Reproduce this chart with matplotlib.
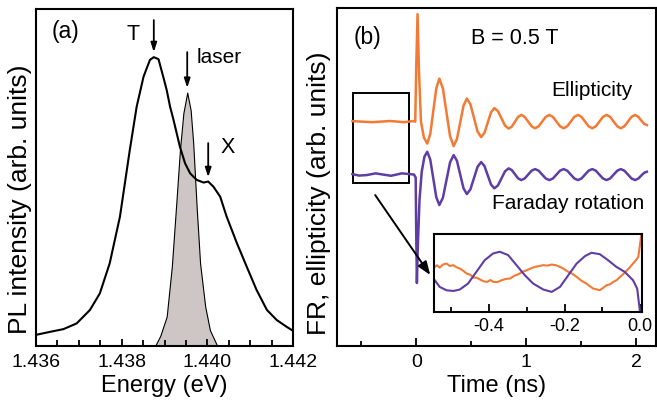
import matplotlib
matplotlib.use("Agg")
import matplotlib.pyplot as plt
from matplotlib.patches import Rectangle

plt.rcParams['font.family'] = ['Liberation Sans', 'DejaVu Sans']

# ---------------- Panel (a) data ----------------
energy_pl = [1.43600, 1.43633, 1.43664, 1.43695, 1.43726, 1.43749, 1.43772, 1.43796,
             1.43819, 1.43835, 1.43851, 1.43866, 1.43875, 1.43886, 1.43897, 1.43905,
             1.43913, 1.43921, 1.43936, 1.43948, 1.43960, 1.43975, 1.43991, 1.44002,
             1.44014, 1.44030, 1.44045, 1.44069, 1.44092, 1.44115, 1.44139, 1.44162,
             1.44185, 1.44200]
pl_intensity = [0.033, 0.042, 0.050, 0.067, 0.107, 0.156, 0.245, 0.384,
                0.582, 0.710, 0.799, 0.849, 0.857, 0.851, 0.799, 0.760,
                0.710, 0.671, 0.591, 0.542, 0.512, 0.493, 0.485, 0.488,
                0.473, 0.443, 0.384, 0.305, 0.235, 0.166, 0.107, 0.077,
                0.057, 0.045]

energy_laser = [1.43878, 1.43890, 1.43905, 1.43917, 1.43928, 1.43936, 1.43944, 1.43953,
                1.43961, 1.43967, 1.43975, 1.43983, 1.43995, 1.44006, 1.44022]
laser_intensity = [0.0, 0.030, 0.087, 0.235, 0.433, 0.582, 0.691, 0.752,
                   0.700, 0.602, 0.413, 0.246, 0.117, 0.047, 0.003]

# ---------------- Panel (b) data (arb. units) ----------------
t_ell = [-0.58, -0.50, -0.40, -0.32, -0.24, -0.17, -0.11, -0.03, -0.009, 0.0, 0.012, 0.025, 0.043, 0.07,
         0.10, 0.1275, 0.155, 0.1825, 0.21, 0.2425, 0.275, 0.3075, 0.34, 0.37, 0.40, 0.43,
         0.46, 0.4925, 0.525, 0.5575, 0.59, 0.62, 0.65, 0.68, 0.71, 0.7425, 0.775, 0.8075,
         0.84, 0.869, 0.8975, 0.926, 0.955, 0.986, 1.0175, 1.049, 1.08, 1.1125, 1.145, 1.1775,
         1.21, 1.2425, 1.275, 1.3075, 1.34, 1.3725, 1.405, 1.4375, 1.47, 1.5025, 1.535, 1.5675,
         1.60, 1.6325, 1.665, 1.6975, 1.73, 1.763, 1.795, 1.828, 1.86, 1.892, 1.925, 1.957,
         1.99, 2.02, 2.05, 2.075, 2.097]
ellipticity = [0.05, 0.0, -0.06, 0.0, 0.06, 0.0, -0.06, 0.05, 0.0, 5.5, 10.75, 5.0, 0.0, -1.6,
               -2.2, -1.25, 1.05, 3.35, 4.3, 3.31, 0.925, -1.46, -2.45, -1.75, -0.075, 1.60,
               2.3, 1.74, 0.375, -0.99, -1.55, -1.13, -0.1, 0.93, 1.35, 1.05, 0.325, -0.40,
               -0.70, -0.50, -0.015, 0.47, 0.67, 0.47, 0.0, -0.47, -0.67, -0.47, 0.0, 0.47,
               0.67, 0.47, 0.0, -0.47, -0.67, -0.47, 0.0, 0.47, 0.67, 0.47, 0.0, -0.47,
               -0.67, -0.47, 0.0, 0.47, 0.67, 0.47, 0.0, -0.47, -0.67, -0.47, 0.0, 0.47,
               0.67, 0.47, 0.05, -0.25, -0.35]

t_fr = [-0.58, -0.52, -0.45, -0.37, -0.30, -0.23, -0.13, -0.06, -0.02, -0.005, 0.0, 0.006, 0.015,
        0.03, 0.05, 0.075, 0.10, 0.1275, 0.155, 0.1825, 0.21, 0.2425, 0.275, 0.3075, 0.34,
        0.37, 0.40, 0.43, 0.46, 0.4925, 0.525, 0.5575, 0.59, 0.62, 0.65, 0.68, 0.71, 0.7425,
        0.775, 0.8075, 0.84, 0.869, 0.8975, 0.926, 0.955, 0.986, 1.0175, 1.049, 1.08, 1.1125,
        1.145, 1.1775, 1.21, 1.2425, 1.275, 1.3075, 1.34, 1.3725, 1.405, 1.4375, 1.47, 1.5025,
        1.535, 1.5675, 1.60, 1.6325, 1.665, 1.6975, 1.73, 1.763, 1.795, 1.828, 1.86, 1.892,
        1.925, 1.957, 1.99, 2.02, 2.05, 2.075, 2.097]
faraday = [0.05, -0.10, -0.05, 0.12, 0.0, -0.12, 0.12, 0.05, 0.0, -0.3, -6.0, -10.85, -7.0,
           -2.5, 0.3, 1.8, 2.28, 1.50, -0.385, -2.27, -3.05, -2.32, -0.55, 1.22, 1.95,
           1.38, 0.0, -1.38, -1.95, -1.48, -0.35, 0.78, 1.25, 0.865, -0.065, -0.995, -1.38, -1.09,
           -0.38, 0.33, 0.62, 0.45, 0.035, -0.38, -0.55, -0.39, 0.0, 0.39, 0.55, 0.39,
           0.0, -0.39, -0.55, -0.39, 0.0, 0.39, 0.55, 0.39, 0.0, -0.39, -0.55, -0.39,
           0.0, 0.39, 0.55, 0.39, 0.0, -0.39, -0.55, -0.39, 0.0, 0.39, 0.55, 0.39,
           0.0, -0.39, -0.55, -0.39, -0.05, 0.20, 0.28]
ell_offset = 22.45
fr_offset = 17.15

# ---------------- Inset data ----------------
t_in_fr = [-0.543, -0.530, -0.512, -0.494, -0.477, -0.455, -0.433, -0.411, -0.389, -0.371,
           -0.349, -0.327, -0.305, -0.283, -0.256, -0.234, -0.212, -0.190, -0.168, -0.146,
           -0.129, -0.107, -0.085, -0.063, -0.041, -0.019, -0.008, -0.001, 0.001]
in_fr = [0.408, 0.322, 0.279, 0.270, 0.288, 0.365, 0.515, 0.665, 0.751, 0.773,
         0.730, 0.601, 0.472, 0.365, 0.288, 0.258, 0.322, 0.472, 0.622, 0.717,
         0.760, 0.742, 0.665, 0.579, 0.515, 0.408, 0.300, 0.020, -0.10]
t_in_ell = [-0.543, -0.537, -0.530, -0.521, -0.512, -0.503, -0.494, -0.486, -0.477, -0.468,
            -0.459, -0.450, -0.441, -0.432, -0.423, -0.414, -0.405, -0.396, -0.388, -0.377,
            -0.366, -0.355, -0.344, -0.333, -0.322, -0.311, -0.300, -0.289, -0.278, -0.267,
            -0.256, -0.245, -0.234, -0.223, -0.212, -0.201, -0.190, -0.179, -0.168, -0.155,
            -0.142, -0.133, -0.124, -0.115, -0.107, -0.098, -0.089, -0.080, -0.071, -0.062,
            -0.053, -0.044, -0.035, -0.027, -0.019, -0.012, -0.005, 0.001, 0.004]
in_ell = [0.579, 0.600, 0.570, 0.610, 0.622, 0.590, 0.601, 0.575, 0.558, 0.530,
          0.494, 0.480, 0.442, 0.440, 0.416, 0.395, 0.386, 0.410, 0.386, 0.385,
          0.408, 0.425, 0.429, 0.465, 0.485, 0.515, 0.536, 0.560, 0.579, 0.590,
          0.601, 0.595, 0.609, 0.600, 0.579, 0.550, 0.515, 0.490, 0.451, 0.400,
          0.365, 0.330, 0.300, 0.290, 0.279, 0.310, 0.343, 0.355, 0.386, 0.410,
          0.451, 0.490, 0.536, 0.575, 0.622, 0.660, 0.708, 0.923, 1.05]

orange = '#F37A35'
purple = '#5E3DA5'
grey = '#CDC6C4'

fig = plt.figure(figsize=(6.57, 4.08), dpi=100)

# ---------------- Panel (a) ----------------
axa = fig.add_axes([0.0548, 0.152, 0.3912, 0.826])
axa.fill_between(energy_laser, laser_intensity, 0, facecolor=grey, edgecolor='black', linewidth=0.8)
axa.plot(energy_pl, pl_intensity, color='black', lw=1.5)
axa.set_xlim(1.436, 1.442)
axa.set_ylim(0, 1)
axa.set_xticks([1.436, 1.438, 1.440, 1.442])
axa.set_xticklabels(['1.436', '1.438', '1.440', '1.442'])
axa.set_xticks([1.4365, 1.437, 1.4375, 1.4385, 1.439, 1.4395, 1.4405, 1.441, 1.4415], minor=True)
axa.set_yticks([])
axa.tick_params(axis='x', which='both', direction='in', labelsize=14, pad=6, width=1.3)
axa.tick_params(axis='x', which='major', length=5)
axa.tick_params(axis='x', which='minor', length=4)
for s in axa.spines.values():
    s.set_linewidth(1.5)
axa.set_xlabel('Energy (eV)', fontsize=17, labelpad=3)
axa.set_ylabel('PL intensity (arb. units)', fontsize=19)
axa.yaxis.set_label_coords(-0.014, 0.436)
axa.text(1.43668, 0.932, '(a)', fontsize=16.5, ha='center', va='center')
axa.text(1.43826, 0.923, 'T', fontsize=15.5, ha='center', va='center')
axa.text(1.43974, 0.855, 'laser', fontsize=15, ha='left', va='center')
axa.text(1.44048, 0.588, 'X', fontsize=15.5, ha='center', va='center')
arrow_kw = dict(arrowstyle='-|>,head_width=0.18,head_length=0.55', color='black', lw=1.3,
                shrinkA=0, shrinkB=0)
axa.annotate('', xy=(1.43875, 0.872), xytext=(1.43875, 0.967), arrowprops=arrow_kw)
axa.annotate('', xy=(1.43953, 0.766), xytext=(1.43953, 0.872), arrowprops=arrow_kw)
axa.annotate('', xy=(1.44002, 0.501), xytext=(1.44002, 0.602), arrowprops=arrow_kw)

# ---------------- Panel (b) ----------------
axb = fig.add_axes([0.513, 0.152, 0.4855, 0.828])
axb.plot(t_ell, [v + ell_offset for v in ellipticity], color=orange, lw=1.8)
axb.plot(t_fr, [v + fr_offset for v in faraday], color=purple, lw=1.8)
axb.add_patch(Rectangle((-0.573, 16.3), 0.509, 9.0, fill=False, edgecolor='black', lw=1.4))
axb.annotate('', xy=(0.127, 7.1), xytext=(-0.373, 15.1),
             arrowprops=dict(arrowstyle='-|>,head_width=0.3,head_length=0.8', color='black',
                             lw=1.4, shrinkA=0, shrinkB=0))
axb.set_xlim(-0.72, 2.18)
axb.set_ylim(0, 33.8)
axb.set_xticks([0, 1, 2])
axb.set_xticks([-0.5, 0.5, 1.5], minor=True)
axb.set_yticks([])
axb.tick_params(axis='x', which='both', direction='in', labelsize=14, pad=6, width=1.3)
axb.tick_params(axis='x', which='major', length=5.5)
axb.tick_params(axis='x', which='minor', length=3.5)
for s in axb.spines.values():
    s.set_linewidth(1.5)
axb.set_xlabel('Time (ns)', fontsize=17, labelpad=3)
axb.set_ylabel('FR, ellipticity (arb. units)', fontsize=19)
axb.yaxis.set_label_coords(-0.019, 0.453)
axb.text(-0.445, 30.9, '(b)', fontsize=16.5, ha='center', va='center')
axb.text(0.9, 30.8, 'B = 0.5 T', fontsize=15.5, ha='center', va='center')
axb.text(1.6, 25.6, 'Ellipticity', fontsize=15, ha='center', va='center')
axb.text(1.38, 14.3, 'Faraday rotation', fontsize=15, ha='center', va='center')

# ---------------- Inset ----------------
axi = fig.add_axes([0.6606, 0.2353, 0.3173, 0.191])
axi.plot(t_in_ell, in_ell, color=orange, lw=1.5)
axi.plot(t_in_fr, in_fr, color=purple, lw=1.5)
axi.set_xlim(-0.545, 0.006)
axi.set_ylim(0, 1)
axi.set_xticks([-0.4, -0.2, 0.0])
axi.set_xticklabels(['-0.4', '-0.2', '0.0'])
axi.set_xticks([-0.5, -0.3, -0.1], minor=True)
axi.set_yticks([])
axi.tick_params(axis='x', which='both', direction='in', labelsize=13, pad=4, width=1.3)
axi.tick_params(axis='x', which='major', length=6)
axi.tick_params(axis='x', which='minor', length=3.5)
for s in axi.spines.values():
    s.set_linewidth(1.5)

fig.savefig('out.png', dpi=100)
